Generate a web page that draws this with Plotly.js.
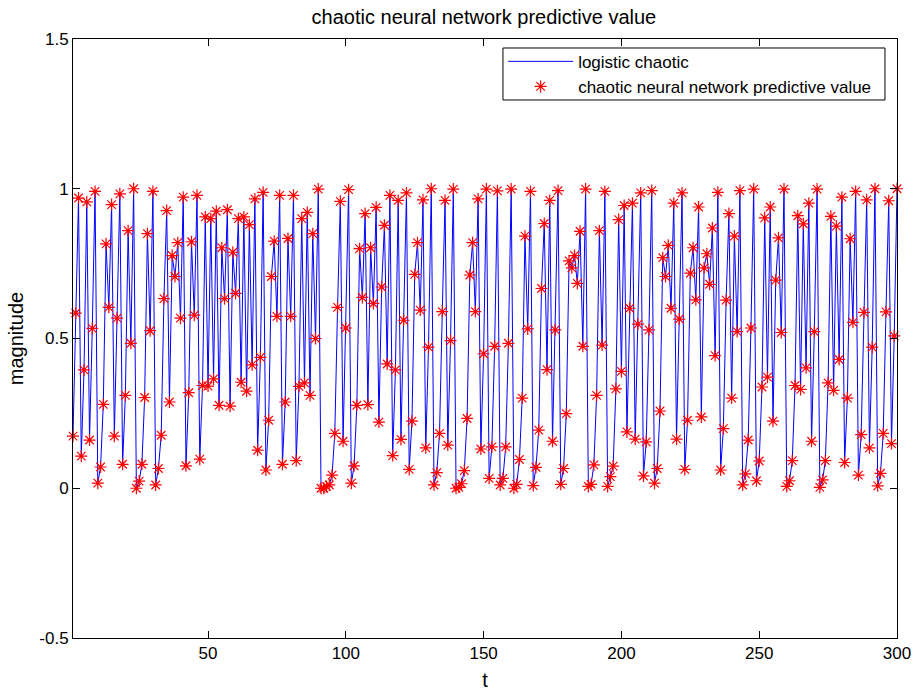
<!DOCTYPE html>
<html>
<head>
<meta charset="utf-8">
<script src="https://cdn.plot.ly/plotly-3.0.1.min.js"></script>
<style>html,body{margin:0;padding:0;background:#fff;}#chart{width:920px;height:692px;}</style>
</head>
<body>
<div id="chart"></div>
<script>
// Values (t = 1 .. 300)
const logisticChaotic = [
0.174,0.585,0.969,0.107,0.395,0.956,0.161,0.534,0.991,0.017,
0.071,0.280,0.816,0.604,0.947,0.174,0.568,0.983,0.080,0.310,
0.860,0.484,1.000,0.000,0.024,0.080,0.303,0.850,0.526,0.991,
0.011,0.066,0.177,0.633,0.927,0.288,0.777,0.707,0.820,0.568,
0.972,0.075,0.319,0.823,0.578,0.978,0.097,0.343,0.906,0.341,
0.900,0.365,0.925,0.277,0.803,0.633,0.930,0.274,0.788,0.651,
0.900,0.354,0.906,0.324,0.880,0.412,0.966,0.127,0.437,0.988,
0.061,0.227,0.707,0.825,0.574,0.978,0.080,0.288,0.834,0.574,
0.978,0.092,0.340,0.900,0.352,0.921,0.310,0.850,0.500,0.999,
0.000,0.000,0.006,0.011,0.044,0.183,0.604,0.958,0.157,0.535,
0.997,0.017,0.075,0.277,0.800,0.637,0.917,0.279,0.803,0.617,
0.938,0.221,0.672,0.878,0.415,0.978,0.109,0.395,0.961,0.163,
0.561,0.986,0.063,0.224,0.714,0.820,0.595,0.963,0.135,0.471,
1.000,0.011,0.052,0.183,0.590,0.961,0.144,0.493,0.999,0.000,
0.003,0.015,0.059,0.233,0.712,0.820,0.590,0.966,0.131,0.449,
0.999,0.033,0.138,0.474,0.993,0.011,0.033,0.138,0.484,0.999,
0.000,0.013,0.096,0.301,0.842,0.532,0.991,0.009,0.070,0.194,
0.667,0.884,0.396,0.961,0.157,0.529,0.994,0.013,0.066,0.249,
0.759,0.736,0.777,0.684,0.858,0.474,0.999,0.006,0.013,0.078,
0.310,0.860,0.478,0.991,0.006,0.039,0.074,0.332,0.897,0.390,
0.944,0.188,0.601,0.952,0.164,0.548,0.986,0.041,0.155,0.529,
0.994,0.017,0.066,0.258,0.770,0.707,0.811,0.601,0.952,0.164,
0.565,0.986,0.063,0.227,0.718,0.803,0.629,0.939,0.238,0.736,
0.783,0.681,0.869,0.443,0.988,0.061,0.199,0.628,0.917,0.301,
0.842,0.523,0.994,0.011,0.048,0.161,0.535,0.999,0.025,0.091,
0.338,0.903,0.371,0.939,0.224,0.695,0.836,0.520,0.999,0.006,
0.025,0.092,0.343,0.910,0.330,0.883,0.402,0.952,0.157,0.523,
0.999,0.003,0.028,0.092,0.352,0.908,0.327,0.875,0.430,0.972,
0.086,0.301,0.833,0.554,0.991,0.044,0.179,0.587,0.963,0.135,
0.471,1.000,0.008,0.050,0.183,0.589,0.960,0.149,0.509,1.000
];
// The predicted points coincide with the chaotic series in the picture
const predictiveValue = logisticChaotic.slice();
const t = logisticChaotic.map((_, i) => i + 1);

const xTicks = [50, 100, 150, 200, 250, 300];
const yTicks = [-0.5, 0, 0.5, 1, 1.5];
const yTickText = ['-0.5', '0', '0.5', '1', '1.5'];

const FONT = 'Liberation Sans, Arial, Helvetica, sans-serif';

const traces = [
  {
    x: t, y: logisticChaotic, type: 'scatter', mode: 'lines',
    name: 'logistic chaotic',
    line: {color: '#0000ff', width: 1}
  },
  {
    x: t, y: predictiveValue, type: 'scatter', mode: 'markers',
    name: 'chaotic neural network predictive value',
    cliponaxis: false,
    marker: {symbol: 'asterisk-open', size: 10, color: '#ff0000', line: {color: '#ff0000', width: 1.2}}
  }
];

const axisCommon = {
  showline: true, linecolor: '#000', linewidth: 1, mirror: 'ticks',
  ticks: 'inside', ticklen: 7, tickwidth: 1, tickcolor: '#000',
  showgrid: false, zeroline: false,
  tickfont: {family: FONT, size: 17, color: '#000'}
};

const layout = {
  width: 920, height: 692,
  margin: {l: 73, r: 23, t: 39, b: 54},
  paper_bgcolor: '#fff', plot_bgcolor: '#fff',
  font: {family: FONT, color: '#000'},
  title: {text: 'chaotic neural network predictive value', font: {family: FONT, size: 20, color: '#000'},
          x: 0.526, xanchor: 'center', y: 0.975, yanchor: 'middle'},
  showlegend: true,
  legend: {x: 0.522, y: 0.992, xanchor: 'left', yanchor: 'top',
           bgcolor: 'rgba(0,0,0,0)', borderwidth: 0,
           itemwidth: 65,
           font: {family: FONT, size: 17, color: '#000'}},
  shapes: [{
    type: 'rect', xref: 'paper', yref: 'paper', layer: 'above',
    x0: 0.5218, x1: 0.9854, y0: 0.8982, y1: 0.985,
    fillcolor: '#fff', line: {color: '#000', width: 1}
  }],
  xaxis: Object.assign({}, axisCommon, {
    range: [1, 300], tickvals: xTicks, ticktext: xTicks.map(String),
    title: {text: 't', font: {family: FONT, size: 20, color: '#000'}, standoff: 10}
  }),
  yaxis: Object.assign({}, axisCommon, {
    range: [-0.5, 1.5], tickvals: yTicks, ticktext: yTickText,
    title: {text: 'magnitude', font: {family: FONT, size: 20, color: '#000'}, standoff: 10}
  })
};

Plotly.newPlot('chart', traces, layout, {displayModeBar: false, staticPlot: true});
</script>
</body>
</html>
